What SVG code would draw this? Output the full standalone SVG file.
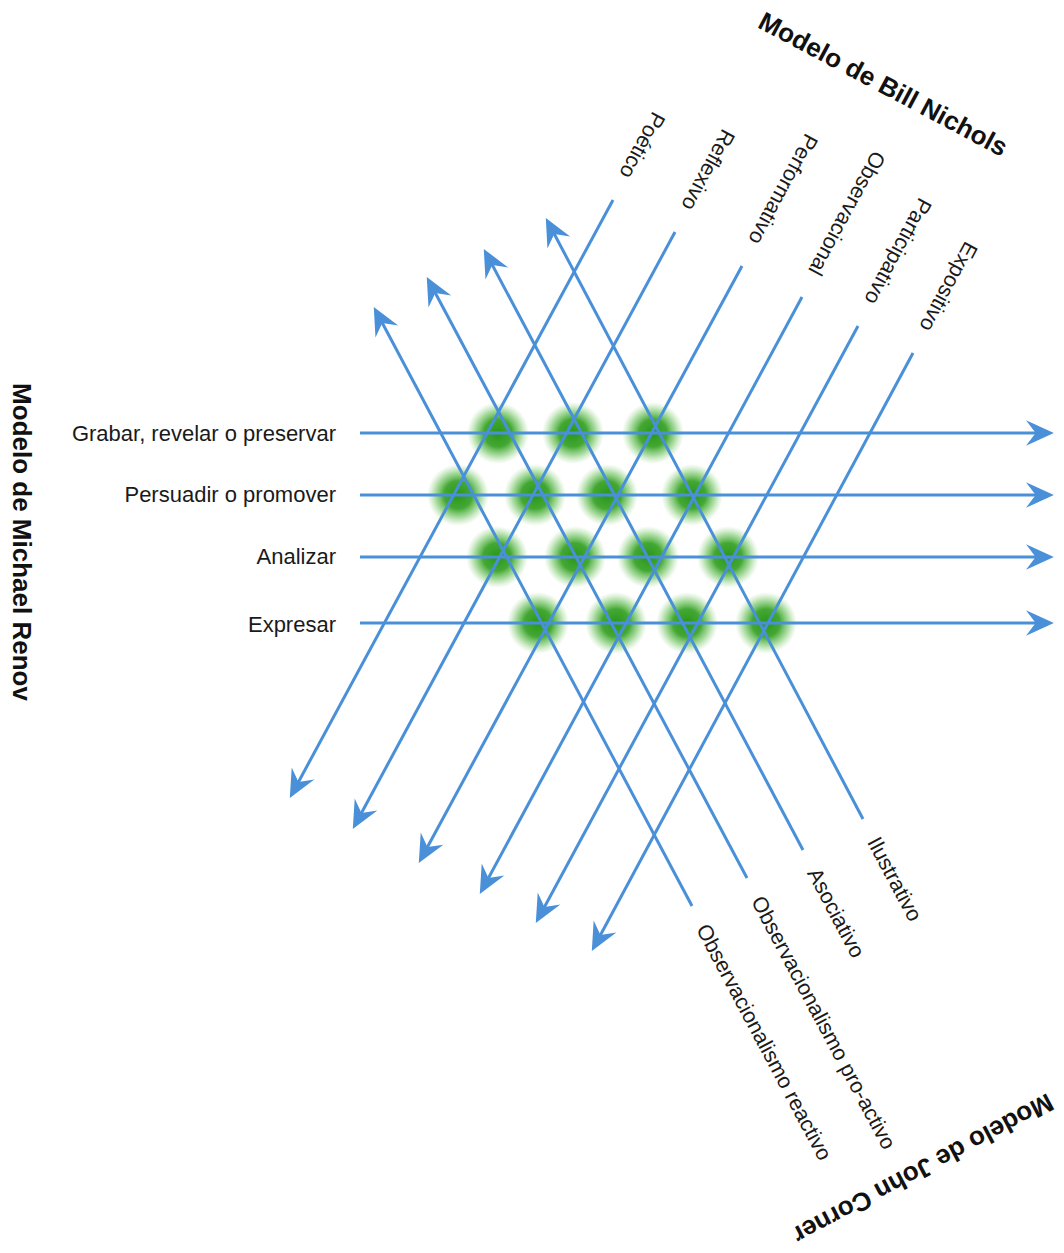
<svg xmlns="http://www.w3.org/2000/svg" width="1064" height="1253" viewBox="0 0 1064 1253">
  <style>
    .ln { stroke: #4a90d9; stroke-width: 3; fill: none; }
    .arr { marker-end: url(#ah); }
    .lbl { font-family: "Liberation Sans", Arial, sans-serif; font-size: 21.5px; fill: #1a1a1a; }
    .lbl-l { font-size: 22px; }
    .ttl { font-family: "Liberation Sans", Arial, sans-serif; font-size: 26px; font-weight: bold; fill: #111; }
  </style>
  <defs>
    <marker id="ah" markerUnits="userSpaceOnUse" markerWidth="34" markerHeight="30" viewBox="-22 -14 30 28" refX="-6" refY="0" orient="auto">
      <path d="M6,0 L-20,-12 L-11,0 L-20,12 Z" fill="#4a90d9"/>
    </marker>
    <radialGradient id="glow" cx="0.5" cy="0.5" r="0.5">
      <stop offset="0" stop-color="#2a961a" stop-opacity="1"/>
      <stop offset="0.45" stop-color="#33a022" stop-opacity="0.92"/>
      <stop offset="0.72" stop-color="#4fb53d" stop-opacity="0.5"/>
      <stop offset="1" stop-color="#7ccc6a" stop-opacity="0"/>
    </radialGradient>
  </defs>
  <rect width="1064" height="1253" fill="#ffffff"/>

  <g id="glows" fill="url(#glow)">
    <circle cx="498" cy="433" r="31"/>
    <circle cx="573" cy="433" r="31"/>
    <circle cx="653" cy="433" r="31"/>
    <circle cx="458" cy="495" r="31"/>
    <circle cx="535" cy="495" r="31"/>
    <circle cx="607" cy="495" r="31"/>
    <circle cx="692" cy="495" r="31"/>
    <circle cx="497" cy="557" r="31"/>
    <circle cx="575" cy="557" r="31"/>
    <circle cx="648" cy="557" r="31"/>
    <circle cx="728" cy="557" r="31"/>
    <circle cx="538" cy="623" r="31"/>
    <circle cx="616" cy="623" r="31"/>
    <circle cx="687" cy="623" r="31"/>
    <circle cx="766" cy="623" r="31"/>
  </g>

  <g id="connectors">
    <line class="ln arr" x1="360" y1="433" x2="1041" y2="433"/>
    <line class="ln arr" x1="360" y1="495" x2="1041" y2="495"/>
    <line class="ln arr" x1="360" y1="557" x2="1041" y2="557"/>
    <line class="ln arr" x1="360" y1="623" x2="1041" y2="623"/>

    <line class="ln arr" x1="613" y1="200" x2="295.9" y2="786.7"/>
    <line class="ln arr" x1="675" y1="232" x2="358.9" y2="817.7"/>
    <line class="ln arr" x1="742" y1="266" x2="424.9" y2="851.7"/>
    <line class="ln arr" x1="802" y1="297" x2="485.9" y2="882.7"/>
    <line class="ln arr" x1="858" y1="326" x2="541.9" y2="911.7"/>
    <line class="ln arr" x1="913" y1="353" x2="597.9" y2="939.7"/>

    <line class="ln arr" x1="692" y1="906" x2="379.8" y2="318.3"/>
    <line class="ln arr" x1="747" y1="878" x2="432.8" y2="288.3"/>
    <line class="ln arr" x1="803" y1="850" x2="489.8" y2="260.3"/>
    <line class="ln arr" x1="863" y1="819" x2="551.8" y2="229.3"/>
  </g>

  <g id="renov-labels" class="lbl lbl-l" text-anchor="end">
    <g id="lbl-grabar"><text x="336" y="441">Grabar, revelar o preservar</text></g>
    <g id="lbl-persuadir"><text x="336" y="502">Persuadir o promover</text></g>
    <g id="lbl-analizar"><text x="336" y="564">Analizar</text></g>
    <g id="lbl-expresar"><text x="336" y="632">Expresar</text></g>
  </g>

  <g id="nichols-labels" class="lbl" text-anchor="end">
    <g id="lbl-poetico"><text transform="translate(625.4,177.1) rotate(118.4)" dy="0.35em">Poético</text></g>
    <g id="lbl-reflexivo"><text transform="translate(687.4,209.1) rotate(118.4)" dy="0.35em">Reflexivo</text></g>
    <g id="lbl-performativo"><text transform="translate(754.4,243.1) rotate(118.4)" dy="0.35em">Performativo</text></g>
    <g id="lbl-observacional"><text transform="translate(814.4,274.1) rotate(118.4)" dy="0.35em">Observacional</text></g>
    <g id="lbl-participativo"><text transform="translate(870.4,303.1) rotate(118.4)" dy="0.35em">Participativo</text></g>
    <g id="lbl-expositivo"><text transform="translate(925.4,330.1) rotate(118.4)" dy="0.35em">Expositivo</text></g>
  </g>

  <g id="corner-labels" class="lbl" text-anchor="start">
    <g id="lbl-reactivo"><text transform="translate(702.3,925.4) rotate(62)" dy="0.35em">Observacionalismo reactivo</text></g>
    <g id="lbl-proactivo"><text transform="translate(757.3,897.4) rotate(62)" dy="0.35em">Observacionalismo pro-activo</text></g>
    <g id="lbl-asociativo"><text transform="translate(813.3,869.4) rotate(62)" dy="0.35em">Asociativo</text></g>
    <g id="lbl-ilustrativo"><text transform="translate(873.3,838.4) rotate(62)" dy="0.35em">Ilustrativo</text></g>
  </g>

  <g id="titles" class="ttl" text-anchor="middle">
    <g id="title-renov"><text transform="translate(13,542) rotate(90)">Modelo de Michael Renov</text></g>
    <g id="title-nichols"><text transform="translate(879,92) rotate(28)">Modelo de Bill Nichols</text></g>
    <g id="title-corner"><text transform="translate(919,1161) rotate(152)">Modelo de John Corner</text></g>
  </g>
</svg>
